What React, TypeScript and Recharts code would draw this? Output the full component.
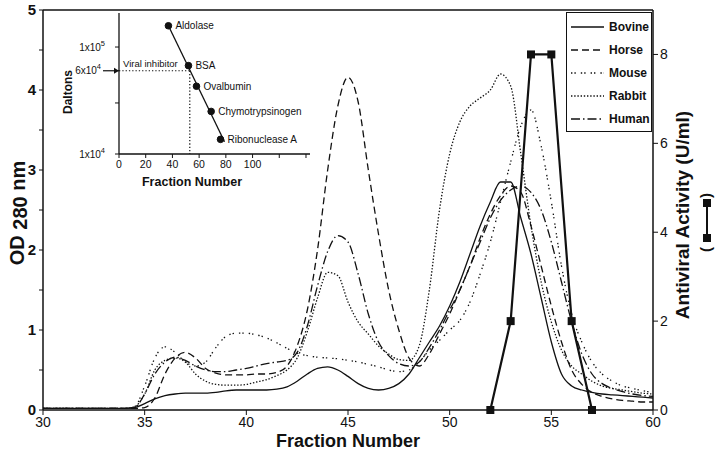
import React from 'react'
import { ComposedChart, Line, XAxis, YAxis, ReferenceLine, LabelList } from 'recharts'

const FONT = 'Liberation Sans, Arial, Helvetica, sans-serif'
const INK = '#111'

// fraction numbers sampled from the elution profile
const fractions = [30, 31, 32, 33, 34, 34.5, 35, 35.5, 36, 36.5, 37, 37.5, 38, 38.5, 39, 39.5, 40, 40.5, 41, 41.5, 42, 42.5, 43, 43.5, 44, 44.5, 45, 45.5, 46, 46.5, 47, 47.5, 48, 48.5, 49, 49.5, 50, 50.5, 51, 51.5, 52, 52.5, 53, 53.5, 54, 54.5, 55, 55.5, 56, 56.5, 57, 57.5, 58, 58.5, 59, 59.5, 60]

const bovine = [0.02, 0.02, 0.02, 0.02, 0.02, 0.03, 0.08, 0.14, 0.18, 0.2, 0.21, 0.21, 0.21, 0.22, 0.24, 0.25, 0.25, 0.25, 0.25, 0.26, 0.29, 0.36, 0.45, 0.52, 0.54, 0.5, 0.42, 0.33, 0.27, 0.25, 0.27, 0.33, 0.45, 0.65, 0.85, 1.05, 1.3, 1.6, 1.95, 2.3, 2.6, 2.85, 2.85, 2.4, 1.95, 1.4, 0.85, 0.45, 0.3, 0.25, 0.22, 0.2, 0.19, 0.18, 0.17, 0.16, 0.15]
const horse = [0.02, 0.02, 0.02, 0.02, 0.02, 0.02, 0.03, 0.15, 0.45, 0.65, 0.72, 0.65, 0.52, 0.46, 0.44, 0.44, 0.44, 0.45, 0.45, 0.47, 0.55, 0.8, 1.25, 2.0, 3.0, 3.8, 4.16, 3.85, 3.0, 2.2, 1.5, 1.0, 0.65, 0.55, 0.7, 0.95, 1.2, 1.5, 1.8, 2.15, 2.45, 2.68, 2.8, 2.72, 2.3, 1.8, 1.3, 0.85, 0.5, 0.32, 0.22, 0.17, 0.14, 0.12, 0.11, 0.1, 0.1]
const mouse = [0.02, 0.02, 0.02, 0.02, 0.02, 0.04, 0.3, 0.65, 0.79, 0.72, 0.6, 0.55, 0.6, 0.78, 0.92, 0.96, 0.96, 0.94, 0.9, 0.84, 0.77, 0.71, 0.68, 0.66, 0.65, 0.64, 0.62, 0.6, 0.57, 0.54, 0.5, 0.48, 0.5, 0.6, 0.75, 0.87, 1.0, 1.12, 1.35, 1.7, 2.1, 2.6, 3.1, 3.55, 3.75, 3.3, 2.6, 1.8, 1.2, 0.85, 0.6, 0.45, 0.36, 0.3, 0.27, 0.24, 0.22]
const rabbit = [0.02, 0.02, 0.02, 0.02, 0.02, 0.04, 0.2, 0.5, 0.62, 0.65, 0.6, 0.45, 0.36, 0.32, 0.31, 0.31, 0.32, 0.35, 0.38, 0.43, 0.5, 0.65, 0.98, 1.4, 1.72, 1.68, 1.35, 1.1, 0.95, 0.8, 0.7, 0.63, 0.62, 0.8, 1.5, 2.5, 3.2, 3.6, 3.8, 3.9, 4.0, 4.2, 4.05, 3.2, 2.3, 1.6, 1.1, 0.75, 0.55, 0.45, 0.36, 0.3, 0.27, 0.25, 0.23, 0.21, 0.2]
const human = [0.02, 0.02, 0.02, 0.02, 0.02, 0.03, 0.2, 0.45, 0.6, 0.66, 0.62, 0.55, 0.5, 0.48, 0.48, 0.5, 0.52, 0.55, 0.58, 0.6, 0.62, 0.72, 1.05, 1.55, 1.98, 2.18, 2.1, 1.7, 1.2, 0.85, 0.68, 0.58, 0.55, 0.6, 0.78, 1.0, 1.25, 1.5, 1.8, 2.1, 2.4, 2.62, 2.75, 2.8, 2.72, 2.5, 2.1, 1.6, 1.1, 0.7, 0.45, 0.33, 0.27, 0.23, 0.2, 0.18, 0.17]

const activityFractions = [52, 53, 54, 55, 56, 57]
const activity = [0, 2, 8, 8, 2, 0]

const fractionTicks = [30, 35, 40, 45, 50, 55, 60]
const odTicks = [0, 0.5, 1, 1.5, 2, 2.5, 3, 3.5, 4, 4.5, 5]
const activityTicks = [0, 2, 4, 6, 8]

// inset: calibration of the column
const standardNames = ['Aldolase', 'BSA', 'Ovalbumin', 'Chymotrypsinogen', 'Ribonuclease A']
const standardFractions = [37, 52, 58, 69, 76]
const standardDaltons = [158000, 67000, 43000, 25000, 13700]
const calibrationFractions = [37, 79]
const calibrationDaltons = [158000, 13000]
const inhibitorFraction = 53
const inhibitorDaltons = 60000
const insetFractionTicks = [0, 20, 40, 60, 80, 100, 120, 140]
const insetDaltonTicks = [10000, 20000, 30000, 40000, 50000, 60000, 70000, 80000, 90000, 100000]

const series = [
  { key: 'bovine', name: 'Bovine', values: bovine, dash: undefined },
  { key: 'horse', name: 'Horse', values: horse, dash: '7 4' },
  { key: 'mouse', name: 'Mouse', values: mouse, dash: '1.4 2 1.4 5' },
  { key: 'rabbit', name: 'Rabbit', values: rabbit, dash: '1.4 1.8' },
  { key: 'human', name: 'Human', values: human, dash: '9 3 1.5 3' },
]

const rows = fractions.map((f, i) => {
  const row: Record<string, number> = { fraction: f }
  series.forEach(s => { row[s.key] = s.values[i] })
  return row
})
const activityRows = activityFractions.map((f, i) => ({ fraction: f, activity: activity[i] }))
const standardRows = standardFractions.map((f, i) => ({ fraction: f, daltons: standardDaltons[i], name: standardNames[i] }))
const calibrationRows = calibrationFractions.map((f, i) => ({ fraction: f, daltons: calibrationDaltons[i] }))
const inhibitorH = [{ fraction: 0, daltons: inhibitorDaltons }, { fraction: inhibitorFraction, daltons: inhibitorDaltons }]
const inhibitorV = [{ fraction: inhibitorFraction, daltons: inhibitorDaltons }, { fraction: inhibitorFraction, daltons: 10000 }]

const SquareDot = (props: any) => {
  const { cx, cy } = props
  if (cx == null || cy == null) return null
  return <rect x={cx - 4} y={cy - 4} width={8} height={8} fill={INK} />
}

const InsetYTick = (props: any) => {
  const { x, y, payload } = props
  const exps: Record<number, [string, string]> = { 10000: ['1', '4'], 60000: ['6', '4'], 100000: ['1', '5'] }
  const lab = exps[payload.value]
  if (!lab) return <g />
  const isArrow = payload.value === 60000
  const tx = isArrow ? x - 12 : x - 8
  return (
    <g>
      <text x={tx} y={y} dy="0.35em" textAnchor="end" fontSize={10} fontFamily={FONT} fill={INK}>
        {lab[0]}x10<tspan dy={-5} fontSize={7.5}>{lab[1]}</tspan>
      </text>
      {isArrow && (
        <g>
          <line x1={x - 10} y1={y} x2={x + 4} y2={y} stroke={INK} strokeWidth={1.2} />
          <path d={`M${x + 6},${y} L${x + 1},${y - 3} L${x + 1},${y + 3} Z`} fill={INK} />
        </g>
      )}
    </g>
  )
}

const Legend = () => (
  <div style={{ position: 'absolute', left: 566, top: 12, width: 84, height: 118, border: `1.5px solid ${INK}`, background: '#fff', fontFamily: FONT }}>
    {series.map((s, i) => (
      <div key={s.key} style={{ position: 'absolute', left: 0, top: 6 + i * 23, height: 16, display: 'flex', alignItems: 'center' }}>
        <svg width={42} height={16}>
          <line x1={4} y1={8} x2={37} y2={8} stroke={INK} strokeWidth={1.4} strokeDasharray={s.dash} />
        </svg>
        <span style={{ fontSize: 12, fontWeight: 'bold', color: INK }}>{s.name}</span>
      </div>
    ))}
  </div>
)

export default function App() {
  return (
    <div style={{ position: 'absolute', left: 0, top: 0, width: 715, height: 452, background: '#fff' }}>
      <ComposedChart width={715} height={452} data={rows} margin={{ top: 10, right: 0, bottom: 0, left: 0 }}>
        <XAxis
          dataKey="fraction" type="number" domain={[30, 60]} ticks={fractionTicks} height={42}
          tickSize={5} tickMargin={2} tick={{ fontSize: 14, fill: INK, fontFamily: FONT }}
          axisLine={{ stroke: INK, strokeWidth: 1.5 }} tickLine={{ stroke: INK }}
          label={{ value: 'Fraction Number', position: 'insideBottom', offset: 5, style: { fontSize: 18, fontWeight: 'bold', fill: INK, fontFamily: FONT } }}
        />
        <YAxis
          yAxisId="od" domain={[0, 5]} ticks={odTicks} width={43} tickSize={4} tickMargin={3}
          tickFormatter={(v: number) => (Number.isInteger(v) ? String(v) : '')}
          tick={{ fontSize: 15, fill: INK, fontFamily: FONT, fontWeight: 'bold' }}
          axisLine={{ stroke: INK, strokeWidth: 1.5 }} tickLine={{ stroke: INK }}
          label={{
            content: () => (
              <text transform="translate(24,213) rotate(-90)" textAnchor="middle" fontSize={20} fontWeight="bold" fontFamily={FONT} fill={INK}>
                OD <tspan dy={3}>280</tspan><tspan dy={-2}> nm</tspan>
              </text>
            ),
          }}
        />
        <YAxis
          yAxisId="av" orientation="right" domain={[0, 9]} ticks={activityTicks} width={62} tickSize={5} tickMargin={2}
          tick={{ fontSize: 14, fill: INK, fontFamily: FONT }}
          axisLine={{ stroke: INK, strokeWidth: 1.5 }} tickLine={{ stroke: INK }}
          label={{
            content: () => (
              <g>
                <text transform="translate(689,215) rotate(-90)" textAnchor="middle" fontSize={19} fontWeight="bold" fontFamily={FONT} fill={INK}>
                  Antiviral Activity (U/ml)
                </text>
                <text transform="translate(711,252) rotate(-90)" fontSize={15} fontWeight="bold" fontFamily={FONT} fill={INK}>(</text>
                <text transform="translate(711,198) rotate(-90)" fontSize={15} fontWeight="bold" fontFamily={FONT} fill={INK}>)</text>
                <line x1={707} y1={203} x2={707} y2={238} stroke={INK} strokeWidth={2} />
                <rect x={703} y={199} width={8} height={8} fill={INK} />
                <rect x={703} y={234} width={8} height={8} fill={INK} />
              </g>
            ),
          }}
        />
        <ReferenceLine yAxisId="od" y={5} stroke={INK} strokeWidth={1.5} />
        {series.map(s => (
          <Line
            key={s.key} yAxisId="od" type="monotone" dataKey={s.key} name={s.name}
            stroke={INK} strokeWidth={1.3} strokeDasharray={s.dash} dot={false} isAnimationActive={false}
          />
        ))}
        <Line
          yAxisId="av" data={activityRows} type="linear" dataKey="activity" name="Antiviral activity"
          stroke={INK} strokeWidth={2.2} dot={<SquareDot />} isAnimationActive={false}
        />
      </ComposedChart>

      <Legend />

      <div style={{ position: 'absolute', left: 60, top: 0 }}>
        <ComposedChart width={252} height={200} margin={{ top: 13, right: 2, bottom: 0, left: 0 }}>
          <XAxis
            dataKey="fraction" type="number" domain={[0, 143]} ticks={insetFractionTicks} height={46}
            tickSize={4} tickMargin={3}
            tickFormatter={(v: number) => (v <= 100 ? String(v) : '')}
            tick={{ fontSize: 10.5, fill: INK, fontFamily: FONT }}
            axisLine={{ stroke: INK, strokeWidth: 1.3 }} tickLine={{ stroke: INK }}
            label={{
              content: () => (
                <text x={132} y={186} textAnchor="middle" fontSize={12.5} fontWeight="bold" fontFamily={FONT} fill={INK}>Fraction Number</text>
              ),
            }}
          />
          <YAxis
            type="number" scale="log" domain={[10000, 208000]} ticks={insetDaltonTicks} width={59}
            tickSize={4} tickMargin={2} tick={<InsetYTick />} allowDataOverflow
            axisLine={{ stroke: INK, strokeWidth: 1.3 }} tickLine={{ stroke: INK }}
            label={{
              content: () => (
                <text transform="translate(12,92) rotate(-90)" textAnchor="middle" fontSize={12} fontWeight="bold" fontFamily={FONT} fill={INK}>Daltons</text>
              ),
            }}
          />
          <Line data={calibrationRows} dataKey="daltons" type="linear" stroke={INK} strokeWidth={1.3} dot={false} isAnimationActive={false} />
          <Line data={inhibitorH} dataKey="daltons" type="linear" stroke={INK} strokeWidth={1.2} strokeDasharray="1.3 2" dot={false} isAnimationActive={false} />
          <Line data={inhibitorV} dataKey="daltons" type="linear" stroke={INK} strokeWidth={1.2} strokeDasharray="1.3 2" dot={false} isAnimationActive={false} />
          <Line
            data={standardRows} dataKey="daltons" type="linear" stroke="none"
            dot={{ r: 3.3, fill: INK, stroke: INK }} isAnimationActive={false}
          >
            <LabelList dataKey="name" position="right" offset={7} style={{ fontSize: 10, fill: INK, fontFamily: FONT }} />
          </Line>
        </ComposedChart>
        <div style={{ position: 'absolute', left: 63, top: 58, fontSize: 9.5, fontFamily: FONT, color: INK, whiteSpace: 'nowrap' }}>Viral inhibitor</div>
      </div>
    </div>
  )
}
